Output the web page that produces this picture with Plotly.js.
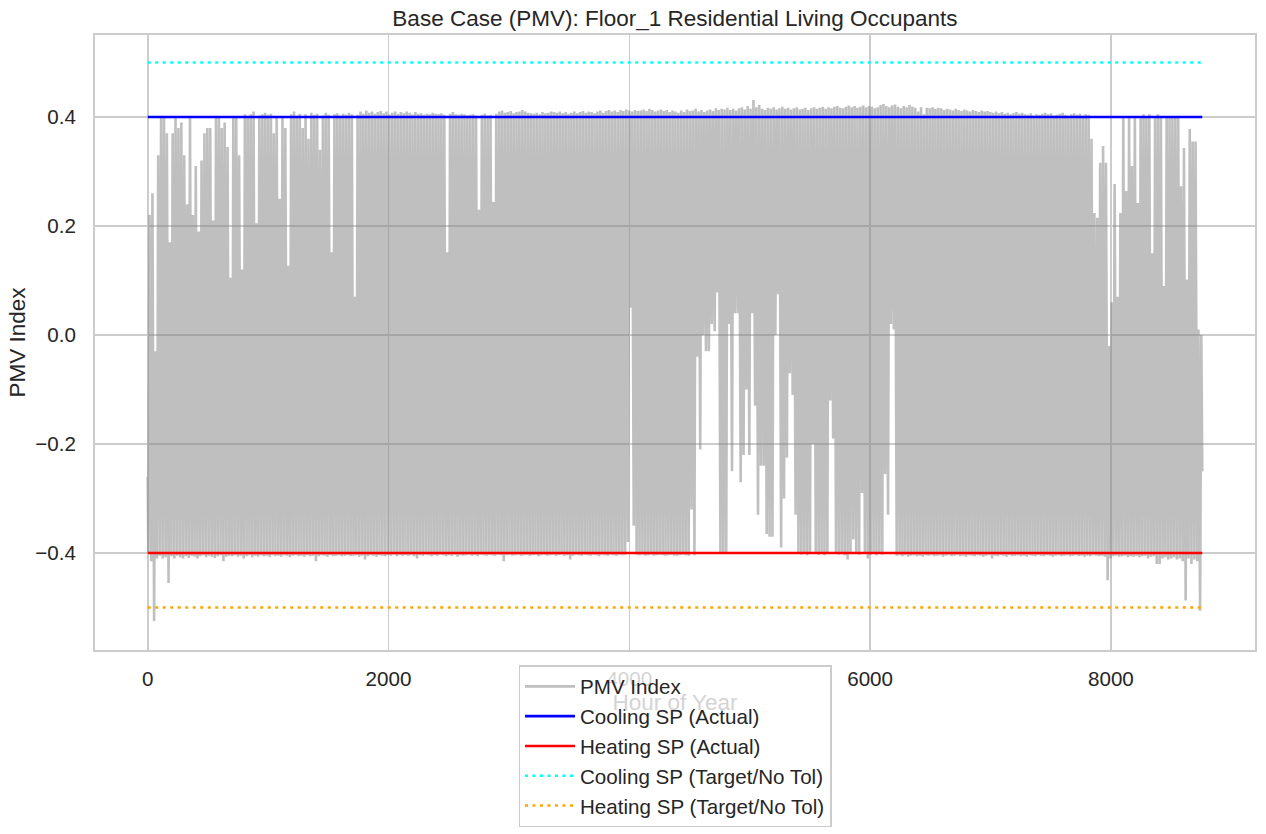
<!DOCTYPE html>
<html>
<head>
<meta charset="utf-8">
<script src="https://cdn.plot.ly/plotly-3.0.1.min.js"></script>
<style>html,body{margin:0;padding:0;background:#fff;}#chart{width:1266px;height:834px;}</style>
</head>
<body>
<div id="chart"></div>
<script>
// Daily maximum PMV (day 0..364)
const dayMax = [
0.22,0.26,-0.03,0.33,0.40,0.40,0.37,0.17,0.37,0.40,
0.38,0.39,0.33,0.24,0.40,0.22,0.31,0.19,0.32,0.37,
0.38,0.38,0.21,0.40,0.40,0.38,0.39,0.345,0.105,0.40,
0.40,0.33,0.12,0.405,0.402,0.405,0.41,0.205,0.403,0.405,
0.408,0.404,0.406,0.37,0.40,0.25,0.40,0.38,0.127,0.405,
0.41,0.403,0.406,0.38,0.405,0.36,0.408,0.404,0.406,0.34,
0.403,0.408,0.404,0.152,0.405,0.407,0.403,0.406,0.404,0.408,
0.405,0.07,0.404,0.41,0.406,0.412,0.408,0.41,0.406,0.409,
0.411,0.407,0.41,0.405,0.408,0.41,0.406,0.409,0.407,0.41,
0.408,0.405,0.409,0.406,0.407,0.404,0.406,0.405,0.408,0.406,
0.405,0.407,0.404,0.152,0.406,0.409,0.405,0.404,0.406,0.405,
0.403,0.404,0.405,0.403,0.23,0.404,0.406,0.403,0.404,0.244,
0.406,0.41,0.412,0.408,0.409,0.411,0.407,0.409,0.41,0.413,
0.41,0.408,0.407,0.406,0.408,0.405,0.409,0.407,0.408,0.41,
0.409,0.408,0.41,0.407,0.409,0.406,0.408,0.41,0.407,0.409,
0.411,0.408,0.41,0.409,0.407,0.41,0.412,0.408,0.411,0.413,
0.41,0.412,0.409,0.413,0.411,0.414,0.412,0.41,0.413,0.411,
0.412,0.414,0.411,0.415,0.413,0.41,0.412,0.414,0.411,0.413,
0.409,0.412,0.41,0.408,0.412,0.409,0.414,0.411,0.412,0.415,
0.41,0.413,0.409,0.412,0.414,0.411,0.416,0.413,0.415,0.414,
0.417,0.413,0.415,0.412,0.416,0.418,0.414,0.42,0.415,0.431,
0.418,0.422,0.415,0.413,0.417,0.415,0.418,0.414,0.416,0.419,
0.415,0.417,0.414,0.416,0.418,0.414,0.415,0.417,0.413,0.416,
0.418,0.415,0.417,0.419,0.415,0.418,0.416,0.419,0.42,0.417,
0.416,0.419,0.421,0.418,0.42,0.417,0.419,0.421,0.418,0.42,
0.419,0.416,0.418,0.422,0.424,0.42,0.418,0.421,0.423,0.419,
0.416,0.42,0.418,0.422,0.419,0.417,0.41,0.418,0.405,0.417,
0.416,0.418,0.415,0.417,0.416,0.413,0.415,0.414,0.412,0.415,
0.413,0.411,0.414,0.412,0.41,0.413,0.411,0.409,0.412,0.41,
0.411,0.409,0.408,0.41,0.407,0.409,0.406,0.408,0.405,0.407,
0.409,0.406,0.408,0.405,0.404,0.407,0.403,0.405,0.404,0.406,
0.408,0.405,0.407,0.403,0.404,0.406,0.408,0.404,0.403,0.405,
0.407,0.404,0.406,0.403,0.405,0.404,0.36,0.224,0.215,0.316,
0.347,0.316,-0.02,0.06,0.277,0.07,0.224,0.40,0.264,0.40,
0.31,0.40,0.242,0.40,0.405,0.40,0.405,0.15,0.40,0.405,
0.40,0.09,0.40,0.402,0.40,0.40,0.40,0.273,0.343,0.102,
0.378,0.355,0.355,0.01,0.0
];
// Daily minimum PMV (day 0..364)
const dayMin = [
-0.40,-0.415,-0.525,-0.41,-0.405,-0.41,-0.408,-0.455,-0.406,-0.41,
-0.405,-0.408,-0.41,-0.406,-0.409,-0.405,-0.407,-0.41,-0.406,-0.404,
-0.408,-0.405,-0.407,-0.409,-0.406,-0.404,-0.415,-0.407,-0.405,-0.406,
-0.404,-0.407,-0.405,-0.41,-0.406,-0.404,-0.408,-0.405,-0.407,-0.404,
-0.406,-0.405,-0.408,-0.404,-0.406,-0.405,-0.407,-0.404,-0.405,-0.408,
-0.405,-0.404,-0.406,-0.405,-0.407,-0.404,-0.406,-0.405,-0.415,-0.406,
-0.404,-0.405,-0.407,-0.404,-0.406,-0.405,-0.404,-0.406,-0.405,-0.404,
-0.406,-0.405,-0.404,-0.407,-0.405,-0.412,-0.406,-0.404,-0.405,-0.407,
-0.404,-0.405,-0.406,-0.404,-0.405,-0.403,-0.406,-0.404,-0.405,-0.404,
-0.405,-0.404,-0.406,-0.41,-0.404,-0.405,-0.403,-0.404,-0.406,-0.404,
-0.405,-0.403,-0.404,-0.406,-0.404,-0.405,-0.403,-0.407,-0.404,-0.405,
-0.404,-0.403,-0.405,-0.404,-0.406,-0.403,-0.404,-0.405,-0.403,-0.404,
-0.405,-0.403,-0.404,-0.415,-0.404,-0.403,-0.405,-0.404,-0.403,-0.405,
-0.404,-0.403,-0.405,-0.404,-0.403,-0.406,-0.404,-0.403,-0.405,-0.404,
-0.403,-0.405,-0.404,-0.403,-0.405,-0.404,-0.412,-0.405,-0.403,-0.404,
-0.405,-0.403,-0.404,-0.405,-0.403,-0.404,-0.406,-0.403,-0.404,-0.405,
-0.403,-0.404,-0.405,-0.403,-0.404,-0.403,-0.38,0.05,-0.35,-0.403,
-0.404,-0.403,-0.405,-0.404,-0.403,-0.405,-0.404,-0.403,-0.404,-0.405,
-0.404,-0.403,-0.405,-0.405,-0.404,-0.403,-0.404,-0.405,-0.32,-0.404,
-0.04,-0.21,0.0,-0.03,-0.03,0.02,0.007,0.078,-0.40,-0.40,
-0.40,0.02,-0.25,0.04,0.04,-0.27,-0.22,-0.10,-0.22,0.04,
-0.13,-0.33,-0.24,-0.24,-0.365,-0.37,-0.37,0.0,0.075,-0.39,
-0.30,-0.225,-0.07,-0.11,-0.33,-0.40,-0.403,-0.40,-0.404,-0.40,
-0.20,-0.40,-0.403,-0.40,-0.404,-0.40,-0.12,-0.19,-0.40,-0.403,
-0.40,-0.404,-0.412,-0.40,-0.375,-0.40,-0.403,-0.29,-0.40,-0.41,
-0.403,-0.40,-0.404,-0.40,-0.403,-0.255,-0.33,0.02,0.01,-0.405,
-0.404,-0.406,-0.404,-0.407,-0.405,-0.404,-0.406,-0.405,-0.407,-0.404,
-0.405,-0.404,-0.406,-0.405,-0.404,-0.407,-0.405,-0.404,-0.406,-0.405,
-0.404,-0.406,-0.405,-0.407,-0.404,-0.405,-0.406,-0.404,-0.405,-0.407,
-0.405,-0.404,-0.41,-0.405,-0.406,-0.404,-0.405,-0.407,-0.404,-0.406,
-0.405,-0.404,-0.406,-0.405,-0.407,-0.404,-0.405,-0.406,-0.404,-0.405,
-0.406,-0.404,-0.405,-0.407,-0.405,-0.404,-0.406,-0.405,-0.404,-0.406,
-0.405,-0.404,-0.406,-0.405,-0.407,-0.405,-0.406,-0.404,-0.405,-0.406,
-0.405,-0.407,-0.45,-0.41,-0.406,-0.405,-0.407,-0.406,-0.405,-0.408,
-0.406,-0.407,-0.405,-0.408,-0.406,-0.405,-0.41,-0.407,-0.406,-0.42,
-0.42,-0.41,-0.408,-0.412,-0.41,-0.408,-0.412,-0.41,-0.415,-0.487,
-0.41,-0.42,-0.412,-0.415,-0.506
];
const startPMV = -0.26;   // hour 0
const endPMV = -0.25;     // hour 8759
const lastHour = 8759;

const setpointNames = ["Cooling SP (Actual)", "Heating SP (Actual)", "Cooling SP (Target/No Tol)", "Heating SP (Target/No Tol)"];
const setpointValues = [0.4, -0.4, 0.5, -0.5];
const setpointColors = ["#0000ff", "#ff0000", "#00ffff", "#ffa500"];
const setpointDash = ["solid", "solid", "3px,4.5px", "3px,4.5px"];

const xTicks = [0, 2000, 4000, 6000, 8000];
const yTicks = [-0.4, -0.2, 0.0, 0.2, 0.4];

// Build the series: each day drops to its minimum then rises to its maximum
const hx = [0], hy = [startPMV];
for (let d = 0; d < dayMax.length; d++) {
  hx.push(d * 24 + 5); hy.push(dayMin[d]);
  hx.push(d * 24 + 15); hy.push(dayMax[d]);
}
hx.push(lastHour); hy.push(endPMV);

const FONT = "Liberation Sans, Arial, Helvetica, sans-serif";
const TXT = "#262626";

const traces = [{
  type: "scatter", mode: "lines", x: hx, y: hy, name: "PMV Index",
  line: {color: "rgba(128,128,128,0.5)", width: 2.6}, hoverinfo: "skip"
}];
for (let i = 0; i < setpointNames.length; i++) {
  traces.push({
    type: "scatter", mode: "lines", x: [0, lastHour], y: [setpointValues[i], setpointValues[i]],
    name: setpointNames[i], line: {color: setpointColors[i], width: 2.6, dash: setpointDash[i]}
  });
}

const layout = {
  width: 1266, height: 834,
  margin: {l: 95, r: 11, t: 35, b: 184, pad: 0, autoexpand: false},
  paper_bgcolor: "#ffffff", plot_bgcolor: "#ffffff",
  font: {family: FONT, color: TXT, size: 20.6},
  title: {text: "Base Case (PMV): Floor_1 Residential Living Occupants", font: {size: 22.5, color: TXT, family: FONT},
          x: 0.5, xref: "paper", xanchor: "center", y: 1 - 18/834, yref: "container", yanchor: "middle"},
  xaxis: {
    range: [-438, 9197], tickvals: xTicks, ticktext: xTicks.map(String),
    showgrid: true, gridcolor: "#cccccc", gridwidth: 1.6, zeroline: false,
    showline: true, linecolor: "#cccccc", linewidth: 2, mirror: true,
    ticks: "", ticklabelstandoff: 9, tickfont: {size: 20.6, color: TXT},
    title: {text: "Hour of Year", font: {size: 22.5, color: "#d4d4d4"}, standoff: 2}, automargin: false
  },
  yaxis: {
    range: [-0.578, 0.5505], tickvals: yTicks, ticktext: yTicks.map(v => (v < 0 ? "\u2212" : "") + Math.abs(v).toFixed(1)),
    showgrid: true, gridcolor: "#cccccc", gridwidth: 1.6, zeroline: false,
    showline: true, linecolor: "#cccccc", linewidth: 2, mirror: true,
    ticks: "", ticklabelstandoff: 13, tickfont: {size: 20.6, color: TXT},
    title: {text: "PMV Index", font: {size: 22.5, color: TXT}, standoff: 3}, automargin: false
  },
  showlegend: true,
  legend: {
    x: 675/1266, xanchor: "center", xref: "container", y: 1 - 665/834, yanchor: "top", yref: "container",
    bgcolor: "rgba(255,255,255,0.8)", bordercolor: "#cccccc", borderwidth: 1.5,
    font: {size: 20.6, color: TXT, family: FONT}, itemwidth: 50, tracegroupgap: 0
  }
};

Plotly.newPlot("chart", traces, layout, {displayModeBar: false, staticPlot: true});
</script>
</body>
</html>
